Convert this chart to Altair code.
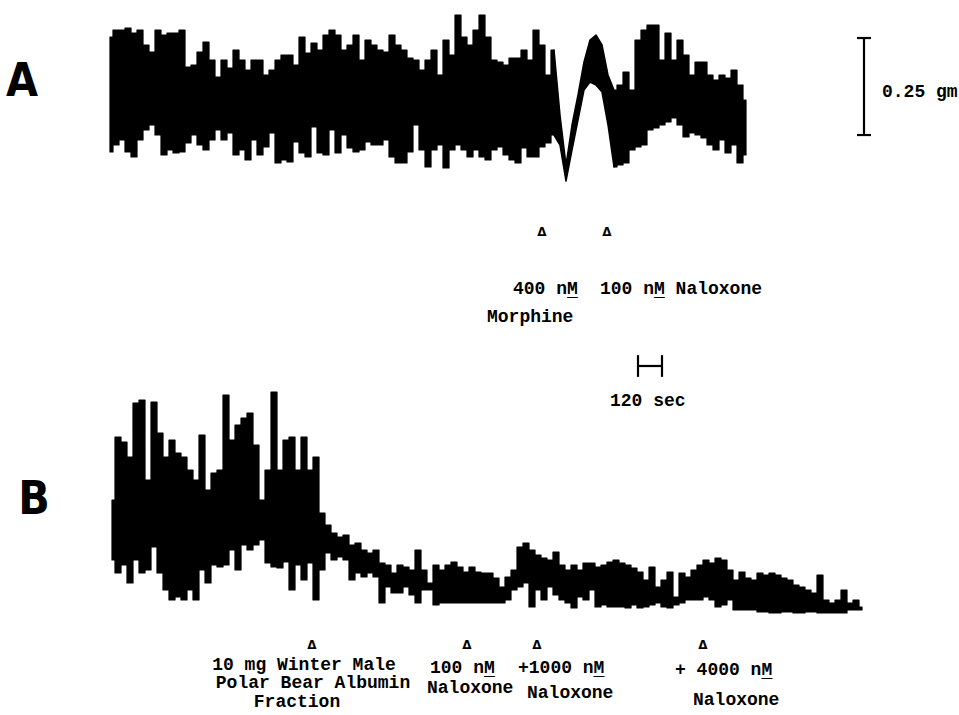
import altair as alt
import pandas as pd

# ---------------- data read from the recording ----------------
SAMPLE_S = 30                 # one envelope sample every 30 s of chart time
CAL_GM_PER_UNIT = 0.25 / 97   # calibration: 0.25 gm bar spans 97 pen units

# Trace A: envelope of the contraction record (pen units above trace baseline)
A_START_S = 0
A_HI = [123, 130, 130, 132, 127, 130, 115, 108, 130, 125, 127, 127, 130, 93, 95, 108,
        118, 100, 83, 100, 92, 110, 100, 90, 100, 100, 85, 90, 100, 105, 105, 95,
        123, 107, 117, 110, 125, 130, 125, 110, 115, 125, 100, 120, 115, 110, 108, 125,
        115, 110, 102, 100, 90, 100, 110, 85, 120, 105, 145, 123, 115, 130, 145, 123,
        100, 98, 95, 102, 102, 110, 100, 130, 115, 85, 110, 45, -5, 35, 65, 98,
        120, 125, 115, 85, 70, 75, 88, 70, 120, 130, 135, 135, 100, 127, 100, 120,
        105, 85, 98, 98, 85, 80, 85, 82, 90, 75, 60]
A_LO = [8, 15, 20, 8, 3, 20, 30, 35, 25, 5, 10, 7, 8, 17, 25, 15,
        10, 20, 30, 20, 27, 5, 10, 0, 20, 5, 13, 27, -3, 0, -2, 18,
        7, 3, 33, 7, 5, 30, 7, 25, 12, 8, 10, 18, 15, 15, 20, 3,
        -3, -3, 8, 35, 10, -7, 10, 15, -8, 10, 15, 10, 3, 10, 3, 0,
        10, 13, 5, 0, -3, 12, 3, 3, 13, 17, 25, 15, -21, 10, 40, 70,
        78, 75, 68, 35, -7, -5, -3, 10, 13, 15, 30, 32, 35, 38, 42, 35,
        23, 27, 25, 22, 15, 10, 20, 7, 15, -3, 5]
# samples of A during which the pen draws the slow morphine wave as one line
A_SLOW_WAVE = (74, 84)

# Trace B
B_START_S = 10
B_HI = [115, 178, 173, 158, 212, 215, 135, 213, 182, 158, 175, 162, 158, 145, 135, 180,
        125, 142, 145, 220, 175, 190, 197, 202, 170, 115, 145, 223, 145, 175, 178, 145,
        178, 145, 158, 102, 90, 82, 78, 80, 70, 72, 65, 62, 65, 52, 50, 42,
        50, 48, 45, 65, 45, 32, 50, 45, 50, 53, 48, 43, 48, 43, 42, 42,
        37, 28, 38, 45, 68, 72, 65, 60, 57, 55, 63, 50, 45, 50, 45, 52,
        52, 48, 50, 53, 55, 52, 50, 47, 43, 35, 48, 28, 35, 43, 18, 42,
        38, 45, 50, 55, 52, 57, 55, 45, 35, 43, 37, 35, 42, 40, 42, 40,
        37, 35, 30, 28, 25, 22, 40, 15, 12, 15, 25, 12, 15, 8]
B_LO = [55, 42, 50, 32, 55, 42, 45, 68, 42, 25, 15, 18, 15, 25, 15, 45,
        32, 50, 48, 50, 65, 45, 70, 65, 70, 75, 52, 48, 47, 53, 25, 50,
        35, 52, 15, 45, 62, 55, 58, 55, 35, 42, 38, 42, 38, 12, 28, 22,
        22, 28, 20, 12, 25, 25, 10, 12, 12, 12, 12, 12, 12, 12, 12, 12,
        12, 12, 15, 25, 28, 32, 8, 25, 15, 28, 20, 15, 12, 7, 18, 15,
        25, 8, 10, 8, 8, 8, 7, 10, 7, 8, 10, 12, 8, 7, 10, 12,
        15, 15, 15, 18, 15, 8, 10, 15, 5, 5, 5, 5, 3, 3, 2, 2,
        3, 3, 2, 2, 3, 3, 2, 2, 2, 2, 2, 5, 5, 5]

# where each record sits on the sheet (gm above the sheet bottom)
A_OFFSET_GM = 1.4304
B_OFFSET_GM = 0.2577

# calibration bars
GM_BAR = 0.25
GM_BAR_T, GM_BAR_G = 3770, 1.4948
SEC_BAR = 120
SEC_BAR_T, SEC_BAR_G = 2640, 0.8995

# event markers (time of addition, s) and label texts
EVENT_A_T = [2160, 2485]
EVENT_B_T = [1010, 1785, 2135, 2965]
EVENT_A_G = 1.2448
EVENT_B_G = 0.1804

LEFT_LABELS = ["400 nM", "100 nM Naloxone", "Morphine", "0.25 gm", "120 sec",
               "100 nM", "Naloxone", "+1000 nM", "Naloxone", "+ 4000 nM", "Naloxone"]
LEFT_T = [2015, 2450, 1885, 3860, 2500, 1600, 1585, 2040, 2085, 2825, 2915]
LEFT_G = [1.0979, 1.0979, 1.0258, 1.6057, 0.8093, 0.1211, 0.0696, 0.1211, 0.0567, 0.1160, 0.0387]

CENTER_LABELS = ["10 mg Winter Male", "Polar Bear Albumin", "Fraction"]
CENTER_T = [970, 1015, 935]
CENTER_G = [0.1289, 0.0825, 0.0335]

PANELS = ["A", "B"]
PANEL_T = [-440, -380]
PANEL_G = [1.6314, 0.5541]

# --------------- build tables ---------------
rows = []
s0, s1 = A_SLOW_WAVE
for i, (h, l) in enumerate(zip(A_HI, A_LO)):
    segs = []
    if i <= s0:
        segs.append(("A1", "fast"))
    if s0 <= i <= s1:
        segs.append(("A2", "slow"))
    if i >= s1:
        segs.append(("A3", "fast"))
    for seg, kind in segs:
        rows.append(dict(seg=seg, kind=kind, t=A_START_S + SAMPLE_S * i,
                         hi=A_OFFSET_GM + h * CAL_GM_PER_UNIT, lo=A_OFFSET_GM + l * CAL_GM_PER_UNIT))
for i, (h, l) in enumerate(zip(B_HI, B_LO)):
    rows.append(dict(seg="B", kind="fast", t=B_START_S + SAMPLE_S * i,
                     hi=B_OFFSET_GM + h * CAL_GM_PER_UNIT, lo=B_OFFSET_GM + l * CAL_GM_PER_UNIT))
trace_df = pd.DataFrame(rows)

FS = 18
CW = 0.6 * FS  # monospace advance

left_df = pd.DataFrame(dict(t=LEFT_T, g=LEFT_G, text=LEFT_LABELS))
left_df["mpos"] = [s.find("nM") + 1 if "nM" in s else -1 for s in LEFT_LABELS]
center_df = pd.DataFrame(dict(t=CENTER_T, g=CENTER_G, text=CENTER_LABELS))
event_df = pd.DataFrame(dict(t=EVENT_A_T + EVENT_B_T,
                             g=[EVENT_A_G] * len(EVENT_A_T) + [EVENT_B_G] * len(EVENT_B_T),
                             text=["Δ"] * (len(EVENT_A_T) + len(EVENT_B_T))))
panel_df = pd.DataFrame(dict(t=PANEL_T, g=PANEL_G, text=PANELS))

CAP_T = 35     # half-width of the gm-bar end caps (s)
CAP_G = 0.028  # half-height of the sec-bar end caps (gm)
bars_df = pd.DataFrame([
    dict(t=GM_BAR_T, t2=GM_BAR_T, g=GM_BAR_G, g2=GM_BAR_G + GM_BAR),
    dict(t=GM_BAR_T - CAP_T, t2=GM_BAR_T + CAP_T, g=GM_BAR_G, g2=GM_BAR_G),
    dict(t=GM_BAR_T - CAP_T, t2=GM_BAR_T + CAP_T, g=GM_BAR_G + GM_BAR, g2=GM_BAR_G + GM_BAR),
    dict(t=SEC_BAR_T, t2=SEC_BAR_T + SEC_BAR, g=SEC_BAR_G, g2=SEC_BAR_G),
    dict(t=SEC_BAR_T, t2=SEC_BAR_T, g=SEC_BAR_G - CAP_G, g2=SEC_BAR_G + CAP_G),
    dict(t=SEC_BAR_T + SEC_BAR, t2=SEC_BAR_T + SEC_BAR, g=SEC_BAR_G - CAP_G, g2=SEC_BAR_G + CAP_G),
])

# --------------- scales ---------------
xs = alt.Scale(domain=[-550, 4245], nice=False, zero=False)
ys = alt.Scale(domain=[0, 715 / 388], nice=False, zero=False)
X = alt.X("t:Q", scale=xs, axis=None)
Y = alt.Y("g:Q", scale=ys, axis=None)
HI = alt.Y("hi:Q", scale=ys, axis=None)

TYPE = "Liberation Mono"

base_tr = alt.Chart(trace_df)
fast = base_tr.transform_filter(alt.datum.kind == "fast").mark_area(
    color="black", stroke="black", strokeWidth=1.2, strokeJoin="round", interpolate="step"
).encode(x=X, y=HI, y2="lo:Q", detail="seg:N")
slow = base_tr.transform_filter(alt.datum.kind == "slow").mark_area(
    color="black", stroke="black", strokeWidth=1.5, strokeJoin="round", interpolate="linear"
).encode(x=X, y=HI, y2="lo:Q", detail="seg:N")

left_txt = alt.Chart(left_df).mark_text(
    align="left", baseline="middle", font=TYPE, fontWeight="bold", fontSize=FS, color="black"
).encode(x=X, y=Y, text="text:N")

underline_layers = []
for pos in sorted(set(p for p in left_df["mpos"] if p > 0)):
    underline_layers.append(
        alt.Chart(left_df[left_df["mpos"] == pos]).mark_text(
            align="left", baseline="middle", font=TYPE, fontWeight="bold", fontSize=FS,
            color="black", dx=pos * CW, dy=2
        ).encode(x=X, y=Y, text=alt.value("_"))
    )

center_txt = alt.Chart(center_df).mark_text(
    align="center", baseline="middle", font=TYPE, fontWeight="bold", fontSize=FS, color="black"
).encode(x=X, y=Y, text="text:N")

events = alt.Chart(event_df).mark_text(
    align="center", baseline="middle", font="DejaVu Sans", fontWeight="bold", fontSize=12, color="black"
).encode(x=X, y=Y, text="text:N")

panels = alt.Chart(panel_df).mark_text(
    align="center", baseline="middle", font="DejaVu Sans Condensed, Liberation Sans Narrow, Liberation Sans",
    fontWeight="bold", fontSize=46, color="black"
).encode(x=X, y=Y, text="text:N")

bars = alt.Chart(bars_df).mark_rule(color="black", strokeWidth=2.2).encode(
    x=X, x2="t2:Q", y=Y, y2="g2:Q")

chart = alt.layer(fast, slow, bars, events, left_txt, *underline_layers, center_txt, panels).properties(
    width=959, height=715, padding=0,
    autosize=alt.AutoSizeParams(type="fit", contains="padding"),
    background="white",
).configure_view(strokeWidth=0)

chart.save("out.html", embed_options={"renderer": "svg", "actions": False})
